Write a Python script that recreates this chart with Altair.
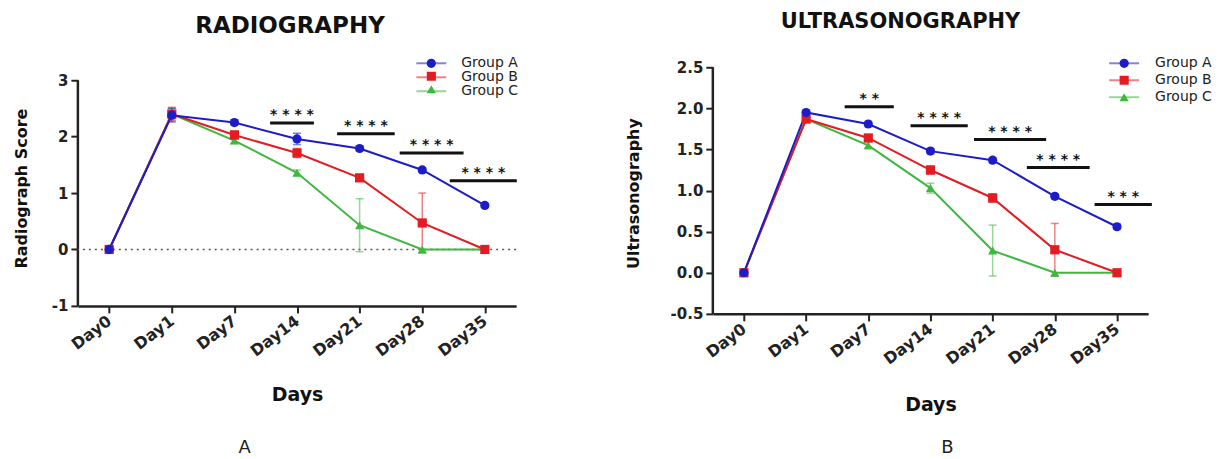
import altair as alt
import pandas as pd

days = ["Day0", "Day1", "Day7", "Day14", "Day21", "Day28", "Day35"]
groups = ["Group A", "Group B", "Group C"]
colors = ["#1c1cc8", "#e51b23", "#3fb83f"]
shapes = ["circle", "square", "triangle-up"]

# Radiography (mean, error)
radio_a = [0, 2.38, 2.25, 1.96, 1.79, 1.41, 0.78]
radio_b = [0, 2.40, 2.03, 1.71, 1.27, 0.47, 0.0]
radio_c = [0, 2.40, 1.93, 1.36, 0.43, 0.0, 0.0]
radio_err_a = [0, 0.12, 0.05, 0.10, 0.04, 0.04, 0.03]
radio_err_b = [0, 0.12, 0.07, 0.08, 0.05, 0.53, 0]
radio_err_c = [0, 0.10, 0.05, 0.05, 0.47, 0, 0]

# Ultrasonography (mean, error)
us_a = [0, 1.95, 1.81, 1.48, 1.37, 0.93, 0.56]
us_b = [0, 1.87, 1.64, 1.25, 0.91, 0.28, 0.0]
us_c = [0, 1.87, 1.55, 1.03, 0.27, 0.0, 0.0]
us_err_a = [0, 0.03, 0.03, 0.03, 0.03, 0.03, 0.03]
us_err_b = [0, 0.03, 0.04, 0.05, 0.05, 0.32, 0]
us_err_c = [0, 0.03, 0.04, 0.06, 0.31, 0, 0]

# significance bars (x in day-index units)
radio_sig_start = [2.57, 3.64, 4.64, 5.44]
radio_sig_end = [3.27, 4.56, 5.66, 6.51]
radio_sig_y = [2.24, 2.05, 1.71, 1.22]
radio_sig_label = ["****", "****", "****", "****"]

us_sig_start = [1.62, 2.68, 3.70, 4.55, 5.64]
us_sig_end = [2.41, 3.60, 4.86, 5.56, 6.56]
us_sig_y = [2.02, 1.79, 1.62, 1.28, 0.83]
us_sig_label = ["**", "****", "****", "****", "***"]

radio_ticks = [-1, 0, 1, 2, 3]
us_ticks = [-0.5, 0.0, 0.5, 1.0, 1.5, 2.0, 2.5]

FONT = "DejaVu Sans"
label_expr = "[" + ",".join("'%s'" % d for d in days) + "][datum.value]"
color_expr = " : ".join("datum.group == '%s' ? '%s'" % (g, c) for g, c in zip(groups, colors)) + " : '#000'"


def series_df(vals, errs):
    rows = []
    for g, v, e in zip(groups[::-1], vals[::-1], errs[::-1]):
        for i, (vv, ee) in enumerate(zip(v, e)):
            rows.append({"group": g, "idx": i, "value": vv, "err": ee})
    return pd.DataFrame(rows)


def panel(vals, errs, sig, title, tsize, tdx, toff, ytitle, ytitle_x, ytitle_y, ytitle_size,
          ydomain, ytop, yticks, yfmt, w, h, xtitle_y, leg, letter, letter_xy, zero_line):
    xs = alt.Scale(domain=[-0.5, 6.5], nice=False, zero=False)
    ys = alt.Scale(domain=[ydomain[0], ytop], nice=False, zero=False)
    x_axis = alt.Axis(values=list(range(7)), labelExpr=label_expr, labelAngle=-37,
                      labelAlign="right", labelBaseline="middle", labelPadding=6,
                      labelFontSize=16,
                      title="Days", titleFontSize=19, titleY=xtitle_y, titleBaseline="middle")
    y_label = ("datum.value < 0 ? '-' + format(-datum.value, '%s') : format(datum.value, '%s')"
               % (yfmt, yfmt))
    y_axis = alt.Axis(values=yticks, labelExpr=y_label, title=ytitle, titleX=ytitle_x,
                      titleY=ytitle_y, titleBaseline="middle", titleFontSize=ytitle_size,
                      domain=False)

    def xenc(f):
        return alt.X(f, scale=xs, axis=x_axis)

    def yenc(f):
        return alt.Y(f, scale=ys, axis=y_axis)

    cscale = alt.Scale(domain=groups, range=colors)
    lx, ly, ch, loff, rpad = leg
    leg1 = alt.Legend(title=None, orient="none", legendX=lx, legendY=ly, symbolType="stroke",
                      symbolSize=900, symbolStrokeWidth=2, clipHeight=ch, labelOffset=loff,
                      labelFont=FONT, labelFontSize=14, labelFontWeight="normal",
                      labelColor="#222", padding=0, rowPadding=rpad)
    leg2 = alt.Legend(title=None, orient="none", legendX=lx + 11, legendY=ly,
                      symbolSize=85, symbolStrokeWidth=0, clipHeight=ch,
                      labelFontSize=1, labelExpr="''", padding=0, rowPadding=0)

    df = series_df(vals, errs)
    base = alt.Chart(df)
    layers = []

    # y-axis line drawn over the labelled span of the axis only
    layers.append(alt.Chart(pd.DataFrame({"x": [-0.5], "y1": [ydomain[0]], "y2": [ydomain[1]]}))
                  .mark_rule(strokeWidth=2.5, color="#222")
                  .encode(x=xenc("x:Q"), y=yenc("y1:Q"), y2="y2:Q"))

    if zero_line:
        layers.append(alt.Chart(pd.DataFrame({"zero": [0]})).mark_rule(
            strokeDash=[2, 4], strokeWidth=1.5, color="#555").encode(y=yenc("zero:Q")))

    err = base.transform_filter("datum.err > 0").transform_calculate(
        lo="datum.value - datum.err", hi="datum.value + datum.err", ecol=color_expr)
    ecol = alt.Color("ecol:N", scale=None)
    layers.append(err.mark_rule(strokeWidth=1.5, opacity=0.55).encode(
        x=xenc("idx:Q"), y=yenc("lo:Q"), y2="hi:Q", color=ecol))
    layers.append(err.mark_tick(orient="horizontal", size=8, thickness=1.5, opacity=0.55).encode(
        x=xenc("idx:Q"), y=yenc("hi:Q"), color=ecol))
    layers.append(err.mark_tick(orient="horizontal", size=8, thickness=1.5, opacity=0.55).encode(
        x=xenc("idx:Q"), y=yenc("lo:Q"), color=ecol))

    layers.append(base.mark_line(strokeWidth=2).encode(
        x=xenc("idx:Q"), y=yenc("value:Q"),
        color=alt.Color("group:N", scale=cscale, legend=leg1)))
    layers.append(base.transform_calculate(group2="datum.group").mark_point(
        filled=True, size=85, opacity=1).encode(
        x=xenc("idx:Q"), y=yenc("value:Q"),
        shape=alt.Shape("group2:N", scale=alt.Scale(range=shapes), legend=leg2),
        fill=alt.Fill("group2:N", scale=alt.Scale(range=colors), legend=leg2)))

    s_start, s_end, s_y, s_lab = sig
    sig_df = pd.DataFrame({"x1": s_start, "x2": s_end, "y": s_y,
                           "label": [" ".join(list(s)) for s in s_lab]})
    sbase = alt.Chart(sig_df)
    layers.append(sbase.mark_rule(strokeWidth=3, color="#111").encode(
        x=xenc("x1:Q"), x2="x2:Q", y=yenc("y:Q")))
    layers.append(sbase.transform_calculate(xm="(datum.x1 + datum.x2) / 2").mark_text(
        font=FONT, fontWeight="bold", fontSize=14, color="#111", baseline="alphabetic",
        dy=-4).encode(x=xenc("xm:Q"), y=yenc("y:Q"), text="label:N"))

    layers.append(alt.Chart(pd.DataFrame({"t": [letter]})).mark_text(
        font=FONT, fontSize=18, color="#222", baseline="middle").encode(
        text="t:N", x=alt.value(letter_xy[0]), y=alt.value(letter_xy[1])))

    return alt.layer(*layers).properties(
        width=w, height=h,
        title=alt.TitleParams(title, font=FONT, fontSize=tsize, fontWeight="bold", color="#111",
                              anchor="middle", frame="group", dx=tdx, offset=toff),
    )


left = panel([radio_a, radio_b, radio_c], [radio_err_a, radio_err_b, radio_err_c],
             (radio_sig_start, radio_sig_end, radio_sig_y, radio_sig_label),
             "RADIOGRAPHY", 23, -7, 19, "Radiograph Score", -56, 121, 16,
             [-1, 3], 3.23, radio_ticks, "d", 439, 239, 89,
             (338, -10.5, 13, 14, -2), "A", (167, 381), True)
right = panel([us_a, us_b, us_c], [us_err_a, us_err_b, us_err_c],
              (us_sig_start, us_sig_end, us_sig_y, us_sig_label),
              "ULTRASONOGRAPHY", 21, -30, 22.75, "Ultrasonography", -79, 126, 16,
              [-0.5, 2.5], 2.5, us_ticks, ".1f", 436, 247, 91,
              (396, -12.25, 16.5, 15, 0), "B", (235, 381), False)

chart = alt.hconcat(left, right, spacing=106).resolve_scale(
    color="independent", fill="independent", shape="independent"
).resolve_legend(color="independent", fill="independent", shape="independent").properties(
    padding={"left": 5, "top": 3, "right": 0, "bottom": 0}
).configure_view(stroke=None).configure_axis(
    grid=False, domainColor="#222", domainWidth=2.5, tickColor="#222", tickWidth=2,
    tickSize=7, labelColor="#222", labelFont=FONT, labelFontWeight="bold", labelFontSize=15,
    labelPadding=3, titleColor="#111", titleFont=FONT, titleFontWeight="bold"
)

chart.save("out.html", embed_options={"renderer": "svg", "actions": False})
